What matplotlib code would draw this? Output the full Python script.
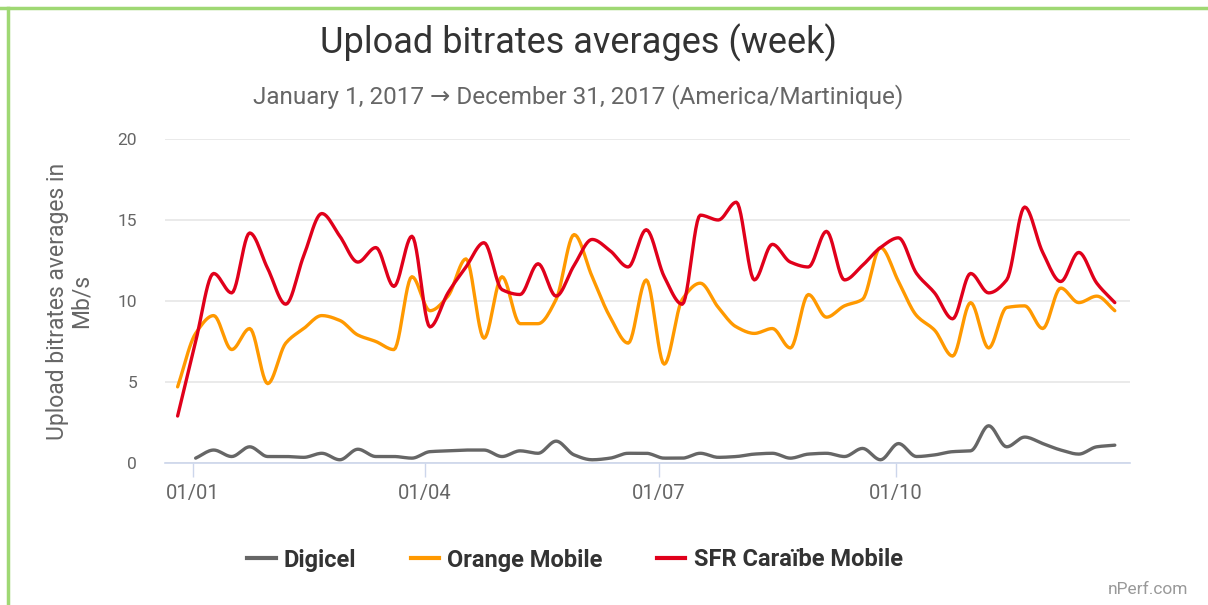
import numpy as np
import pandas as pd
import matplotlib
matplotlib.use("Agg")
import matplotlib.pyplot as plt
import matplotlib.dates as mdates
from matplotlib.lines import Line2D

plt.rcParams['font.family'] = ['Roboto', 'DejaVu Sans']

# weekly points, weeks starting on Monday
weeks = pd.date_range("2016-12-26", periods=53, freq="7D")

digicel = [np.nan, 0.3, 0.8, 0.4, 1.0, 0.4, 0.4, 0.35, 0.6, 0.2,
           0.85, 0.4, 0.4, 0.3, 0.7, 0.75, 0.8, 0.8, 0.4, 0.75,
           0.6, 1.35, 0.5, 0.2, 0.3, 0.6, 0.6, 0.3, 0.3, 0.6,
           0.35, 0.4, 0.55, 0.6, 0.3, 0.55, 0.6, 0.4, 0.9, 0.2,
           1.2, 0.4, 0.5, 0.7, 0.75, 2.3, 1.0, 1.6, 1.2, 0.8,
           0.55, 1.0, 1.1]
orange = [4.7, 8.0, 9.1, 7.0, 8.3, 4.9, 7.4, 8.3, 9.1, 8.8,
          7.9, 7.5, 7.0, 11.5, 9.4, 10.3, 12.6, 7.7, 11.5, 8.6,
          8.6, 10.1, 14.1, 11.5, 9.0, 7.4, 11.3, 6.1, 10.1, 11.1,
          9.6, 8.4, 8.0, 8.3, 7.1, 10.4, 9.0, 9.7, 10.1, 13.3,
          11.2, 9.1, 8.2, 6.6, 9.9, 7.1, 9.6, 9.7, 8.3, 10.8,
          9.9, 10.3, 9.4]
sfr = [2.9, 7.5, 11.7, 10.5, 14.2, 12.0, 9.8, 12.8, 15.4, 14.0,
       12.4, 13.3, 10.9, 14.0, 8.4, 10.5, 12.1, 13.6, 10.7, 10.4,
       12.3, 10.3, 12.2, 13.8, 13.1, 12.1, 14.4, 11.5, 9.8, 15.3,
       15.0, 16.1, 11.3, 13.5, 12.4, 12.1, 14.3, 11.3, 12.2, 13.3,
       13.9, 11.7, 10.5, 8.9, 11.7, 10.5, 11.3, 15.8, 13.0, 11.2,
       13.0, 11.1, 9.9]

series = [("Digicel", digicel, "#666666"),
          ("Orange Mobile", orange, "#ff9900"),
          ("SFR Caraïbe Mobile", sfr, "#e0001b")]


def smooth(x, y, n=12):
    # monotone cubic (pchip) between the weekly points, for drawing only
    x = np.asarray(x, float)
    y = np.asarray(y, float)
    h = np.diff(x)
    d = np.diff(y) / h
    m = np.zeros_like(y)
    for k in range(1, len(y) - 1):
        if d[k - 1] * d[k] > 0:
            w1 = 2 * h[k] + h[k - 1]
            w2 = h[k] + 2 * h[k - 1]
            m[k] = (w1 + w2) / (w1 / d[k - 1] + w2 / d[k])
    m[0] = d[0]
    m[-1] = d[-1]
    xs, ys = [], []
    for k in range(len(h)):
        t = np.linspace(0, 1, n, endpoint=False)
        h00 = 2 * t**3 - 3 * t**2 + 1
        h10 = t**3 - 2 * t**2 + t
        h01 = -2 * t**3 + 3 * t**2
        h11 = t**3 - t**2
        xs.append(x[k] + t * h[k])
        ys.append(h00 * y[k] + h10 * h[k] * m[k] + h01 * y[k + 1] + h11 * h[k] * m[k + 1])
    xs.append([x[-1]])
    ys.append([y[-1]])
    return np.concatenate(xs), np.concatenate(ys)


fig = plt.figure(figsize=(12.08, 6.05), dpi=100)
ax = fig.add_axes([165 / 1208, 1 - 463 / 605, 965 / 1208, 324 / 605])

xnum = mdates.date2num(weeks)
for name, vals, col in series:
    v = np.asarray(vals, float)
    ok = ~np.isnan(v)
    sx, sy = smooth(xnum[ok], v[ok])
    ax.plot(sx, sy, color=col, lw=2.4, solid_capstyle="round", zorder=3)

jan1 = mdates.date2num(pd.Timestamp("2017-01-01"))
ax.set_xlim(jan1 - 10.9, jan1 + 363.9)
ax.set_ylim(0, 20)
ax.set_yticks([0, 5, 10, 15, 20])
ax.grid(axis="y", color="#e6e6e6", lw=1.2)
ax.set_axisbelow(True)

ax.xaxis.set_major_locator(mdates.MonthLocator(bymonth=[1, 4, 7, 10]))
ax.xaxis.set_major_formatter(mdates.DateFormatter("%d/%m"))

for s in ["top", "right", "left"]:
    ax.spines[s].set_visible(False)
ax.spines["bottom"].set_color("#ccd6eb")
ax.spines["bottom"].set_linewidth(1.2)
ax.tick_params(axis="x", colors="#ccd6eb", length=10, width=1, labelcolor="#666666",
               labelsize=14.5, pad=5)
ax.tick_params(axis="y", length=0, labelcolor="#666666", labelsize=12.5, pad=20)

ax.set_ylabel("Upload bitrates averages in\nMb/s", color="#666666", fontsize=16.5,
              linespacing=1.05)
ax.yaxis.set_label_coords(-(165 - 93) / 965, 0.5)

fig.text(578 / 1208, 1 - 43 / 605, "Upload bitrates averages (week)", ha="center",
         va="center", fontsize=26, color="#333333")
fig.text(578 / 1208, 1 - 97 / 605,
         "January 1, 2017 \u2192 December 31, 2017 (America/Martinique)",
         ha="center", va="center", fontsize=17.5, color="#666666")
fig.text(1188 / 1208, 1 - 590 / 605, "nPerf.com", ha="right", va="center",
         fontsize=12.5, color="#999999")

handles = [Line2D([], [], color=c, lw=3) for _, _, c in series]
leg = fig.legend(handles, [n for n, _, _ in series], loc="center",
                 bbox_to_anchor=(575 / 1208, 1 - 560 / 605), ncol=3, frameon=False,
                 handlelength=1.2, handletextpad=0.35, columnspacing=2.3,
                 prop={"size": 17, "weight": "bold"})
for t in leg.get_texts():
    t.set_color("#333333")

# green frame on top and left
fig.add_artist(Line2D([0, 1], [1 - 8 / 605] * 2, color="#9fd873", lw=2.5))
fig.add_artist(Line2D([8 / 1208] * 2, [0, 1 - 8 / 605], color="#9fd873", lw=2.5))

fig.savefig("out.png", dpi=100)
